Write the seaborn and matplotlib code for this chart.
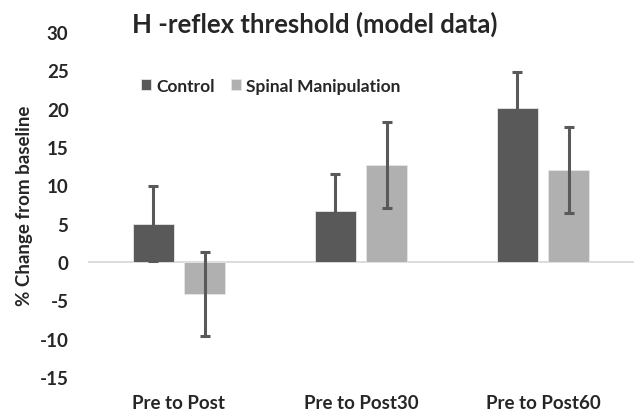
import matplotlib
matplotlib.use("Agg")
import matplotlib.pyplot as plt
import seaborn as sns
import pandas as pd
import numpy as np

categories = ["Pre to Post", "Pre to Post30", "Pre to Post60"]
groups = ["Control", "Spinal Manipulation"]
control_mean = [5.0, 6.7, 20.1]
control_err = [4.9, 4.8, 4.7]
spinal_mean = [-4.15, 12.7, 12.0]
spinal_err = [5.5, 5.6, 5.6]
yticks = [-15, -10, -5, 0, 5, 10, 15, 20, 25, 30]

df = pd.DataFrame({
    "cat": categories * 2,
    "group": [groups[0]] * 3 + [groups[1]] * 3,
    "val": control_mean + spinal_mean,
})
errs = {groups[0]: control_err, groups[1]: spinal_err}

sns.set_theme(style="white")
plt.rcParams["font.family"] = ["Lato", "DejaVu Sans"]
plt.rcParams["font.weight"] = "bold"

fig = plt.figure(figsize=(6.35, 4.14), dpi=100)
ax = fig.add_axes([88 / 635, 1 - 378 / 414, 546 / 635, 345 / 414])

palette = {groups[0]: "#595959", groups[1]: "#b0b0b0"}
sns.barplot(data=df, x="cat", y="val", hue="group", hue_order=groups,
            order=categories, palette=palette, errorbar=None,
            width=0.566, gap=0.2, ax=ax, edgecolor="#e6e6e6", linewidth=0.6,
            zorder=2, saturation=1)

for cont, g in zip(ax.containers, groups):
    xs = [p.get_x() + p.get_width() / 2 for p in cont.patches]
    ys = [p.get_y() + p.get_height() for p in cont.patches]
    ax.errorbar(xs, ys, yerr=errs[g], fmt="none", ecolor="#595959",
                elinewidth=2.2, capsize=3.5, capthick=2.2, zorder=3)

ax.axhline(0, color="#d9d9d9", lw=1.3, zorder=1)
ax.set_ylim(-15, 30)
ax.set_xlim(-0.5, 2.5)
ax.set_yticks(yticks)
ax.set_yticklabels([str(t) for t in yticks])
for s in ax.spines.values():
    s.set_visible(False)
ax.tick_params(axis="y", length=0, pad=14, labelsize=13.5)
ax.tick_params(axis="x", length=0, pad=12, labelsize=13.5)
for lab in ax.get_xticklabels() + ax.get_yticklabels():
    lab.set_fontweight("bold")
ax.set_xlabel("")
ax.set_ylabel("% Change from baseline", fontsize=13.5, fontweight="bold", labelpad=5)

leg = ax.legend(loc="center left", bbox_to_anchor=((141 - 88) / 546, (378 - 87) / 345),
                ncol=2, frameon=False, fontsize=12.5, handlelength=0.6,
                handleheight=0.6, handletextpad=0.3, columnspacing=0.9,
                borderaxespad=0, borderpad=0)
for t in leg.get_texts():
    t.set_fontweight("bold")

fig.text(315 / 635, 1 - 24 / 414, "H -reflex threshold (model data)",
         ha="center", va="center", fontsize=18.5, fontweight="bold")

fig.savefig("out.png", dpi=100)
